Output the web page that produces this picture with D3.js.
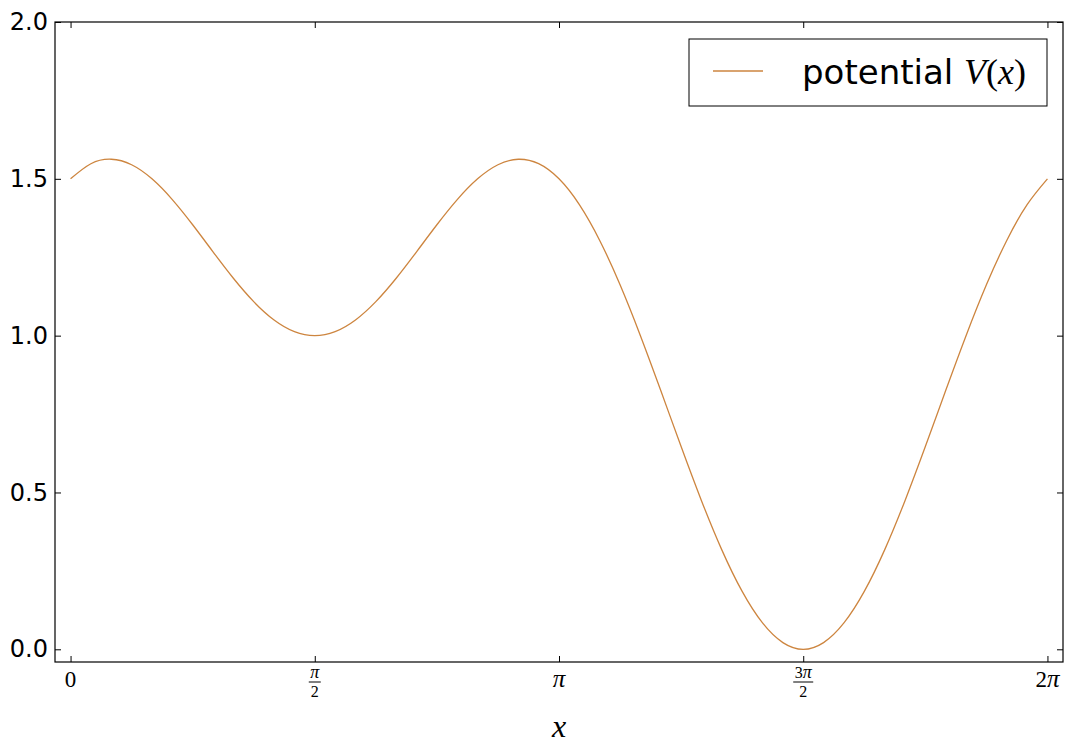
<!DOCTYPE html>
<html>
<head>
<meta charset="utf-8">
<script src="https://cdn.jsdelivr.net/npm/d3@7"></script>
<style>
  html, body { margin: 0; padding: 0; background: #fff; }
  svg { display: block; }
</style>
</head>
<body>
<svg id="chart" width="1072" height="755"></svg>
<script>
// ---- data ----
const xValues = [0, 0.1309, 0.2618, 0.3927, 0.5236, 0.6545, 0.7854, 0.9163, 1.0472, 1.1781, 1.3090, 1.4399,
  1.5708, 1.7017, 1.8326, 1.9635, 2.0944, 2.2253, 2.3562, 2.4871, 2.6180, 2.7489, 2.8798, 3.0107,
  3.1416, 3.2725, 3.4034, 3.5343, 3.6652, 3.7961, 3.9270, 4.0579, 4.1888, 4.3197, 4.4506, 4.5815,
  4.7124, 4.8433, 4.9742, 5.1051, 5.2360, 5.3669, 5.4978, 5.6287, 5.7596, 5.8905, 6.0214, 6.1523, 6.2832];
const potentialValues = [1.5, 1.5482, 1.5624, 1.5449, 1.5, 1.4338, 1.3536, 1.2673, 1.1830, 1.1084, 1.0500, 1.0128,
  1.0, 1.0128, 1.0500, 1.1084, 1.1830, 1.2673, 1.3536, 1.4338, 1.5, 1.5449, 1.5624, 1.5482,
  1.5, 1.4177, 1.3036, 1.1622, 1.0, 0.8250, 0.6464, 0.4739, 0.3170, 0.1845, 0.0840, 0.0214,
  0.0, 0.0214, 0.0840, 0.1845, 0.3170, 0.4739, 0.6464, 0.8250, 1.0, 1.1622, 1.3036, 1.4177, 1.5];
const yTicks = [0, 0.5, 1.0, 1.5, 2.0];
const yTickLabels = ["0.0", "0.5", "1.0", "1.5", "2.0"];
const xTicks = [0, Math.PI / 2, Math.PI, 3 * Math.PI / 2, 2 * Math.PI];
const xTickLabels = [
  { whole: ["0", ""] },
  { num: ["", "π"], den: "2" },
  { whole: ["", "π"] },
  { num: ["3", "π"], den: "2" },
  { whole: ["2", "π"] }
];
const seriesName = "potential";
const lineColor = "#cd853f";

// ---- layout ----
const svg = d3.select("#chart");
const L = 55, R = 1063, T = 22, B = 662;
const x = d3.scaleLinear().domain([-0.1, 2 * Math.PI + 0.1]).range([L, R]);
const y = d3.scaleLinear().domain([-0.0405, 2.0]).range([B, T]);
const tickLen = 6;

// curve
const pts = xValues.map((v, i) => [v, potentialValues[i]]);
svg.append("path")
  .datum(pts)
  .attr("fill", "none")
  .attr("stroke", lineColor)
  .attr("stroke-width", 1.3)
  .attr("d", d3.line().x(d => x(d[0])).y(d => y(d[1])).curve(d3.curveNatural));

// axes (inward ticks, no labels from axis)
const axLeft = d3.axisLeft(y).tickValues(yTicks).tickSizeInner(-tickLen).tickSizeOuter(0).tickFormat("");
const axRight = d3.axisRight(y).tickValues(yTicks).tickSizeInner(-tickLen).tickSizeOuter(0).tickFormat("");
const axBottom = d3.axisBottom(x).tickValues(xTicks).tickSizeInner(-tickLen).tickSizeOuter(0).tickFormat("");
const axTop = d3.axisTop(x).tickValues(xTicks).tickSizeInner(-tickLen).tickSizeOuter(0).tickFormat("");

function styleAxis(g) {
  g.selectAll("path.domain").remove();
  g.selectAll(".tick line").attr("stroke", "#000").attr("stroke-width", 1);
}
svg.append("g").attr("transform", `translate(${L},0)`).call(axLeft).call(styleAxis);
svg.append("g").attr("transform", `translate(${R},0)`).call(axRight).call(styleAxis);
svg.append("g").attr("transform", `translate(0,${B})`).call(axBottom).call(styleAxis);
svg.append("g").attr("transform", `translate(0,${T})`).call(axTop).call(styleAxis);

// frame
svg.append("rect")
  .attr("x", L).attr("y", T).attr("width", R - L).attr("height", B - T)
  .attr("fill", "none").attr("stroke", "#000").attr("stroke-width", 1.2);

// y tick labels
svg.append("g").selectAll("text").data(yTicks).join("text")
  .attr("x", L - 7)
  .attr("y", d => y(d))
  .attr("dy", "0.34em")
  .attr("text-anchor", "end")
  .attr("font-family", "DejaVu Sans, sans-serif")
  .attr("font-size", 24)
  .attr("fill", "#000")
  .text((d, i) => yTickLabels[i]);

// x tick labels (math style)
const serif = "'Liberation Serif', 'DejaVu Serif', serif";
const xl = svg.append("g");
function mathText(sel, parts, size) {
  sel.append("tspan").text(parts[0]);
  if (parts[1]) sel.append("tspan").attr("font-style", "italic").attr("font-size", size + 2).text(parts[1]);
}
xTicks.forEach((t, i) => {
  const lab = xTickLabels[i];
  const cx = x(t);
  if (lab.whole) {
    const tx = xl.append("text")
      .attr("x", cx).attr("y", 687)
      .attr("text-anchor", "middle")
      .attr("font-family", serif)
      .attr("font-size", 23)
      .attr("fill", "#000");
    mathText(tx, lab.whole, 23);
  } else {
    const tn = xl.append("text")
      .attr("x", cx).attr("y", 678)
      .attr("text-anchor", "middle")
      .attr("font-family", serif)
      .attr("font-size", 16)
      .attr("fill", "#000");
    mathText(tn, lab.num, 16);
    const w = lab.num[0] ? 20 : 12;
    xl.append("line")
      .attr("x1", cx - w / 2).attr("x2", cx + w / 2)
      .attr("y1", 682).attr("y2", 682)
      .attr("stroke", "#000").attr("stroke-width", 1);
    xl.append("text")
      .attr("x", cx).attr("y", 697)
      .attr("text-anchor", "middle")
      .attr("font-family", serif)
      .attr("font-size", 16)
      .attr("fill", "#000")
      .text(lab.den);
  }
});

// x axis label
svg.append("text")
  .attr("x", (L + R) / 2).attr("y", 737)
  .attr("text-anchor", "middle")
  .attr("font-family", serif)
  .attr("font-style", "italic")
  .attr("font-size", 32)
  .attr("fill", "#000")
  .text("x");

// legend
const lg = svg.append("g");
lg.append("rect")
  .attr("x", 689).attr("y", 39).attr("width", 358).attr("height", 67)
  .attr("fill", "#fff").attr("stroke", "#000").attr("stroke-width", 1);
lg.append("line")
  .attr("x1", 713).attr("x2", 763).attr("y1", 71).attr("y2", 71)
  .attr("stroke", lineColor).attr("stroke-width", 1.3);
const lt = lg.append("text")
  .attr("x", 802).attr("y", 84)
  .attr("font-family", "DejaVu Sans, sans-serif")
  .attr("font-size", 34)
  .attr("fill", "#000");
lt.append("tspan").text(seriesName + " ");
lt.append("tspan").attr("font-family", serif).attr("font-style", "italic").attr("font-size", 36).text("V");
lt.append("tspan").attr("font-family", serif).attr("font-size", 36).text("(");
lt.append("tspan").attr("font-family", serif).attr("font-style", "italic").attr("font-size", 36).text("x");
lt.append("tspan").attr("font-family", serif).attr("font-size", 36).text(")");
</script>
</body>
</html>
